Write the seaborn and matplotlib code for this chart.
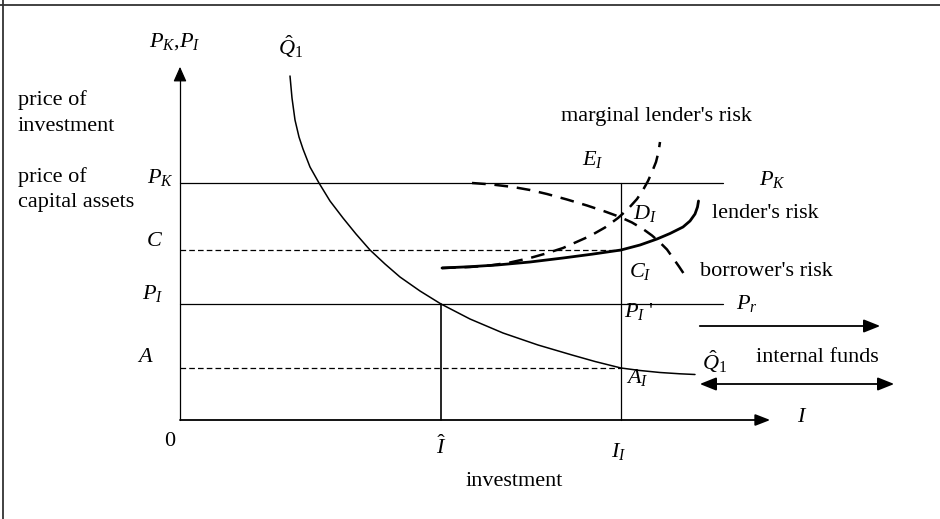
import numpy as np
import pandas as pd
import seaborn as sns
import matplotlib.pyplot as plt

# levels on the price axis (schematic units)
P_K = 237
C_LEVEL = 170
P_I = 116
A_LEVEL = 52

# levels on the investment axis
I_HAT = 261
I_ONE = 441
LINE_END = 543
X_TIP = 593
Y_TIP = 356

# Q-hat demand price curve
q_x = [110, 112, 115, 119, 123, 130, 139, 150, 163, 176, 190, 205, 220, 240,
       261, 290, 323, 358, 392, 415, 441, 460, 480, 500, 515]
q_y = [344, 322, 300, 283, 271, 253, 237, 219, 202, 186, 170, 156, 143, 129,
       116, 101, 87, 75, 65, 58.5, 52, 49.5, 47.5, 46.2, 45.5]

# lender's risk (solid)
lr_x = [262, 290, 317, 350, 383, 412, 441, 460, 477, 490, 503, 510, 515, 517.5, 518.5]
lr_y = [152, 153.3, 155, 158, 162, 165.8, 170, 175, 181, 186.5, 193, 199, 206, 213, 219]

# marginal lender's risk (dashed)
mlr_x = [262, 290, 310, 330, 350, 366, 383, 410, 425, 438, 448, 457, 463, 468,
         472, 476, 478.5, 480]
mlr_y = [152, 153, 154.5, 157.5, 162, 166.5, 172, 184, 192.5, 202, 211, 221, 230,
         239, 248, 258, 268, 278]

# borrower's risk (dashed)
br_x = [292, 312, 333, 350, 367, 387, 407, 425, 440, 452, 463, 472, 480, 487,
        493, 499, 505]
br_y = [237, 235.5, 233, 230, 226, 220.5, 214.5, 208.5, 203, 197.5, 191, 184.5,
        177.5, 170.5, 162, 153.5, 144.5]

# internal funds arrows
ARROW_START = 517
ARROW_UP_END = 703
ARROW_UP_Y = 94
ARROW_LOW_END = 717
ARROW_LOW_Y = 36

sns.set_theme(style="white")
plt.rcParams['font.family'] = ['Liberation Serif', 'DejaVu Serif']
plt.rcParams['text.color'] = 'black'
plt.rcParams['mathtext.fontset'] = 'custom'
plt.rcParams['mathtext.rm'] = 'Liberation Serif'
plt.rcParams['mathtext.it'] = 'Liberation Serif:italic'

fig = plt.figure(figsize=(9.4, 5.19), dpi=100)
ax = fig.add_axes([0, 0, 1, 1])
ax.set_xlim(-180, 760)
ax.set_ylim(-99, 420)
ax.axis('off')


def draw(xs, ys, **kw):
    df = pd.DataFrame({'x': xs, 'y': ys})
    sns.lineplot(data=df, x='x', y='y', sort=False, estimator=None,
                 ax=ax, color='black', legend=False, **kw)


# frame of the scanned figure
ax.axhline(415, color='#333333', lw=1.3)
ax.axvline(-177, color='#333333', lw=1.3)

# axes
draw([0, 0], [0, Y_TIP - 12], lw=0.9)
draw([0, X_TIP - 12], [0, 0], lw=1.3)
ax.annotate('', xy=(0, Y_TIP), xytext=(0, Y_TIP - 14),
            arrowprops=dict(arrowstyle='-|>,head_length=0.9,head_width=0.4',
                            color='black', lw=0.9, mutation_scale=10))
ax.annotate('', xy=(X_TIP, 0), xytext=(X_TIP - 14, 0),
            arrowprops=dict(arrowstyle='-|>,head_length=0.9,head_width=0.35',
                            color='black', lw=1.3, mutation_scale=10))

# guide lines
draw([0, LINE_END], [P_K, P_K], lw=0.9)
draw([0, LINE_END], [P_I, P_I], lw=0.9)
draw([0, I_ONE], [C_LEVEL, C_LEVEL], lw=0.9, linestyle=(0, (4.5, 2.5)))
draw([0, I_ONE], [A_LEVEL, A_LEVEL], lw=0.9, linestyle=(0, (4.5, 2.5)))
draw([I_HAT, I_HAT], [0, P_I], lw=1.2)
draw([I_ONE, I_ONE], [0, P_K], lw=0.9)

# curves
draw(q_x, q_y, lw=1.1)
draw(lr_x, lr_y, lw=2.0)
draw(mlr_x, mlr_y, lw=1.8, linestyle=(0, (5.5, 3.5)))
draw(br_x, br_y, lw=1.8, linestyle=(0, (5.5, 3.5)))

# internal funds arrows
ax.annotate('', xy=(ARROW_UP_END, ARROW_UP_Y), xytext=(ARROW_START, ARROW_UP_Y),
            arrowprops=dict(arrowstyle='-|>,head_length=1.0,head_width=0.4',
                            color='black', lw=1.3, mutation_scale=10))
ax.annotate('', xy=(ARROW_LOW_END, ARROW_LOW_Y), xytext=(ARROW_START, ARROW_LOW_Y),
            arrowprops=dict(arrowstyle='<|-|>,head_length=1.0,head_width=0.4',
                            color='black', lw=1.3, mutation_scale=10))

fs = 16
txt = dict(fontsize=fs, color='black', ha='center', va='center')
left = dict(fontsize=fs, color='black', ha='left', va='baseline')
ax.text(-5, 378, r'$P_K$,$P_I$', **txt)
ax.text(111, 373, r'$\hat{Q}_{1}$', **txt)
ax.text(-162, 315, 'price of', **left)
ax.text(-162, 289, 'investment', **left)
ax.text(-162, 238, 'price of', **left)
ax.text(-162, 213, 'capital assets', **left)
ax.text(-20, 243, r'$P_K$', **txt)
ax.text(-25, 178, r'$C$', **txt)
ax.text(-27, 127, r'$P_I$', **txt)
ax.text(-35, 62, r'$A$', **txt)
ax.text(-10, -22, '0', **txt)
ax.text(I_HAT, -27, r'$\hat{I}$', **txt)
ax.text(I_ONE - 2, -32, r'$I_I$', **txt)
ax.text(334, -61, 'investment', **txt)
ax.text(622, 2, r'$I$', **txt)
ax.text(413, 260, r'$E_I$', **txt)
ax.text(592, 240, r'$P_K$', **txt)
ax.text(465, 207, r'$D_I$', **txt)
ax.text(532, 207, "lender's risk", fontsize=fs, ha='left', va='center')
ax.text(460, 148, r'$C_I$', **txt)
ax.text(520, 148, "borrower's risk", fontsize=fs, ha='left', va='center')
ax.text(459, 108, r"$P_I$ '", **txt)
ax.text(567, 117, r'$P_r$', **txt)
ax.text(535, 58, r'$\hat{Q}_{1}$', **txt)
ax.text(637, 63, 'internal funds', **txt)
ax.text(457, 42, r'$A_I$', **txt)
ax.text(476, 303, "marginal lender's risk", **txt)

fig.savefig('out.png', dpi=100)
